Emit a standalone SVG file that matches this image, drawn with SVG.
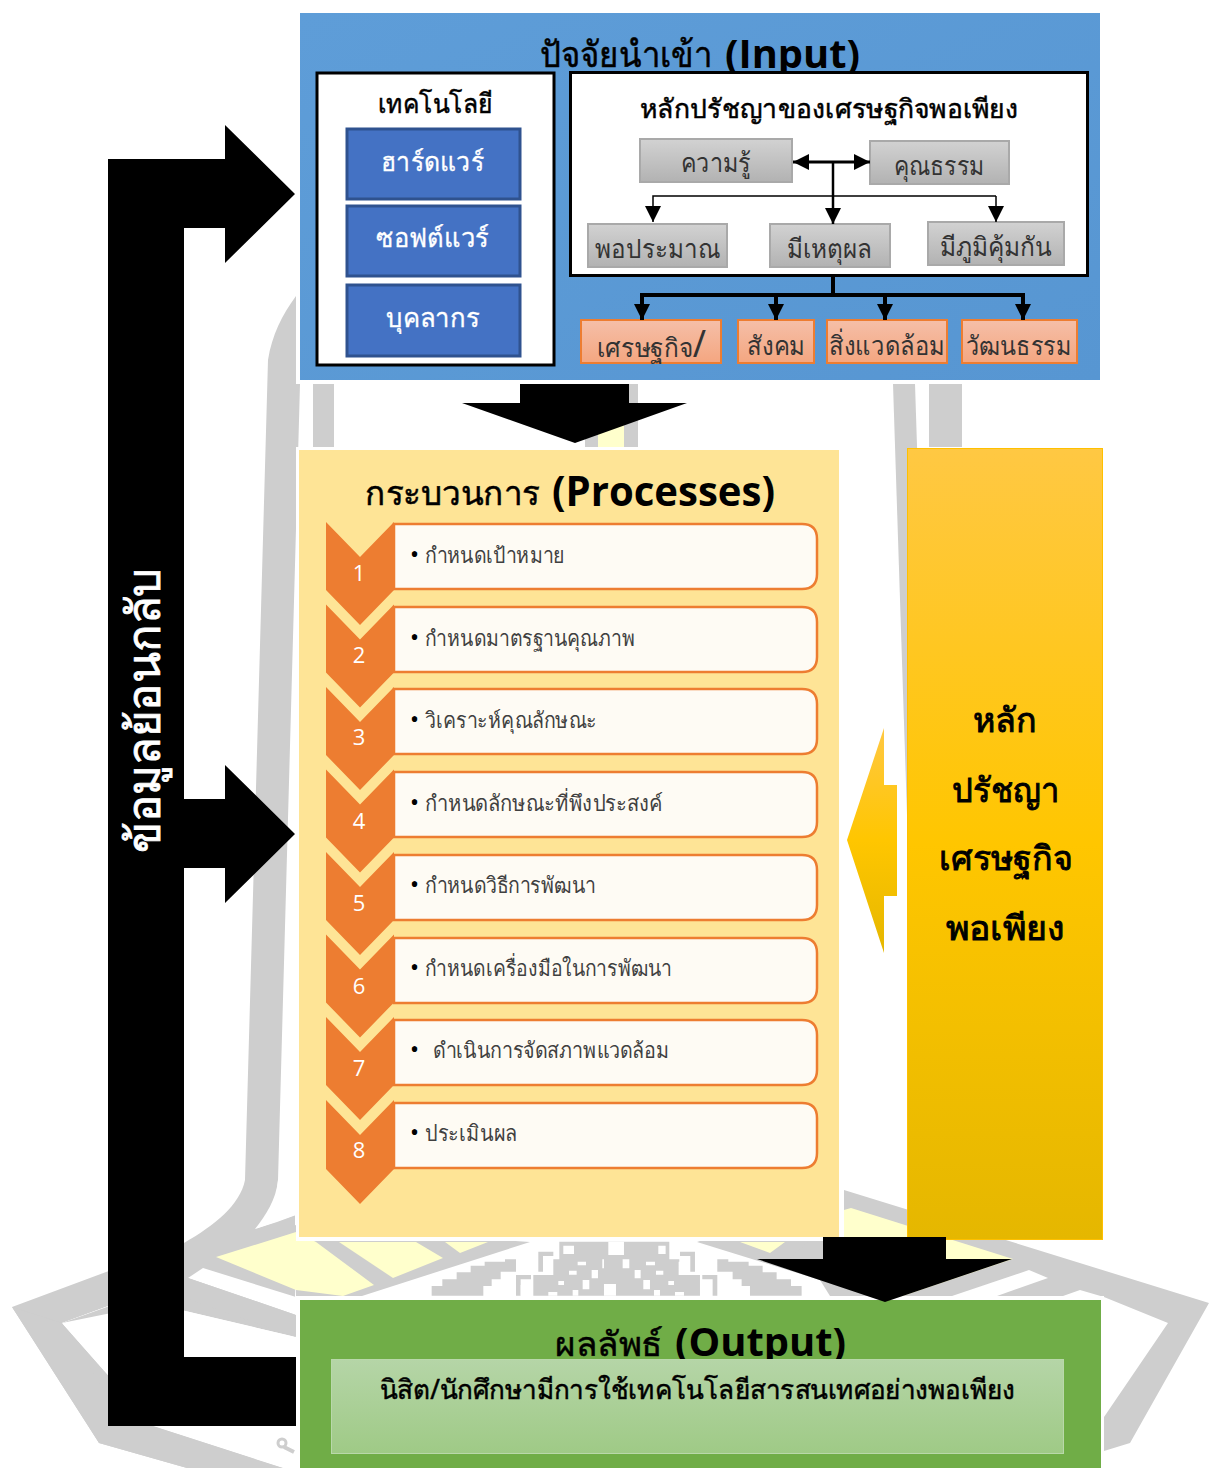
<svg xmlns="http://www.w3.org/2000/svg" width="1209" height="1468" viewBox="0 0 1209 1468">
<defs>
<style>
text{font-family:"Noto Sans","Open Sans","DejaVu Sans",sans-serif;text-anchor:start}
.en{font-family:"Open Sans","Noto Sans",sans-serif;font-weight:700;fill:#000}
.wm{fill:#cecece}.wy{fill:#ffffcc}
.gb{fill:url(#grey);stroke:#a9a9a9;stroke-width:2}
.ob{fill:url(#sal);stroke:#ed7d31;stroke-width:2}
.bb{fill:#4472c4;stroke:#2f528f;stroke-width:3}
.wb{fill:#fff;stroke:#000;stroke-width:3}
.t{font-size:26px;fill:#333}
.tw{font-size:26px;fill:#fff;stroke:#fff;stroke-width:.3}
.s{font-size:22px;fill:#404040}
.b{font-size:24px;fill:#000}
.n{font-family:"Open Sans",sans-serif;font-size:22px;fill:#fff;text-anchor:middle}
.chev{fill:#ed7d31}
.step{fill:#fefbf4;stroke:#ed7d31;stroke-width:2.5}
.c{fill:none;stroke:#000}
.g{font-size:34px;fill:#000;stroke:#000;stroke-width:.9}
.h{fill:#000;stroke:#000;stroke-width:.5}
</style>
<linearGradient id="blue" x1="0" y1="0" x2="1" y2="1"><stop offset="0" stop-color="#5e9dd8"/><stop offset="1" stop-color="#5796d2"/></linearGradient>
<linearGradient id="grey" x1="0" y1="0" x2="0" y2="1"><stop offset="0" stop-color="#d2d2d2"/><stop offset="1" stop-color="#b2b2b2"/></linearGradient>
<linearGradient id="sal" x1="0" y1="0" x2="0" y2="1"><stop offset="0" stop-color="#f5bfa8"/><stop offset="1" stop-color="#f4a680"/></linearGradient>
<linearGradient id="gold" x1="0" y1="0" x2="0" y2="1"><stop offset="0" stop-color="#ffc843"/><stop offset=".5" stop-color="#ffc600"/><stop offset="1" stop-color="#e5b700"/></linearGradient>
<linearGradient id="gr" x1="0" y1="0" x2="0" y2="1"><stop offset="0" stop-color="#b5d5a7"/><stop offset="1" stop-color="#9fca86"/></linearGradient>
<marker id="ah" markerUnits="userSpaceOnUse" markerWidth="18" markerHeight="18" refX="16" refY="8" orient="auto"><path d="M0,0L16,8L0,16Z" fill="#000"/></marker>
</defs>
<rect width="1209" height="1468" fill="#fff"/>
<g id="watermark">
<path class="wm" d="M268,360C272,335 282,315 296,296L296,384L300,384L278,1180C276,1205 266,1225 255,1229L295,1215L295,1297L295,1315L295,1337L130,1298L62,1323L153,1426L283,1468L187,1468L99,1443L12,1307L184,1243C215,1225 240,1205 245,1180Z"/>
<path fill="#fff" d="M188,1278L203,1268L296,1297L296,1315Z"/>
<path fill="#fff" d="M62,1323L130,1298L296,1337L296,1468L283,1468L153,1426Z"/>
<path class="wm" d="M99,1443L187,1468L283,1468L153,1426L110,1400L62,1323L12,1307Z"/>
<path class="wm" d="M62,1323L188,1278L296,1315L296,1337L185,1298Z"/>
<path fill="#fff" d="M278,1180L296,1180L296,1215L277,1222L255,1229C266,1215 276,1200 278,1180Z"/>
<circle cx="282" cy="1443" r="4" fill="none" stroke="#cecece" stroke-width="3"/>
<path d="M284,1447L294,1452" stroke="#cecece" stroke-width="4"/>
<path class="wm" d="M293,1225L530,1242L362,1296L296,1296Z"/>
<path class="wy" d="M216,1257L296,1232L316,1242L374,1285L343,1296L296,1290Z"/>
<path class="wy" d="M339,1242L393,1278L443,1258L416,1242Z"/>
<path class="wy" d="M445,1242L488,1242L460,1253Z"/>
<path class="wm" d="M313,384H334L334,447H313Z"/>
<path class="wm" d="M585,384H638V447H585Z"/>
<path class="wy" d="M598,384H624V447H598Z"/>
<path class="wm" d="M893,384H915L935,1000H913Z"/>
<path class="wm" d="M929,384H962V447H929Z"/>
<path class="wm" d="M844,1190L1209,1303L1130,1443L1104,1451V1417L1168,1323L1104,1297L1080,1290L1063,1296H697V1242Z"/>
<path fill="#fff" d="M1029,1270L1048,1278L997,1296H952Z"/>
<path class="wy" d="M844,1210L851,1208L1013,1259L885,1302L844,1260Z"/>
<path class="wm" d="M697,1242H740L770,1253L785,1242H808L790,1258H844V1296H820Z"/>
<path class="wy" d="M740,1242L770,1253L785,1242Z"/>
<path fill="#fff" d="M640,1242H697L820,1280L830,1296H640Z"/>
<g transform="translate(400,1230) scale(.3333)">
<path class="wm" d="M95,197V168H127V148H170V127H212V107H254V95H315V88H348V125H302V148H275V168H250V197Z"/>
<path class="wm" d="M1205,197V168H1173V148H1130V127H1088V107H1046V95H985V88H952V125H998V148H1025V168H1050V197Z"/>
<path class="wm" d="M478,35H808V88H838V135H900V197H400V135H460V88H478Z"/>
<path class="wm" d="M415,65H460V78H429V125H415ZM885,65H840V78H871V125H885ZM348,135H393V148H362V197H348ZM952,135H907V148H938V197H952Z"/>
<path fill="#fff" d="M490,47H522V72H490ZM775,47H797V72H775ZM625,35H672V75H625ZM533,95H558V106H533ZM738,95H765V106H738ZM668,88H688V115H668ZM607,88H612V115H607ZM507,122H530V134H507ZM575,120H594V145H575ZM704,120H722V145H704ZM768,122H790V134H768ZM475,153H492V165H475ZM548,150H568V178H548ZM730,150H750V178H730ZM805,153H822V165H805ZM612,162H648V197H612ZM445,186H472V197H445ZM518,180H535V197H518ZM762,180H780V197H762ZM825,186H852V197H825ZM429,95H440V125H429ZM836,95H860V135H836ZM362,165H398V197H362Z"/>
</g>
</g>
<rect x="296" y="447" width="548" height="794" fill="#fff"/>
<rect x="296" y="1296" width="808" height="172" fill="#fff"/>
<rect x="296" y="10" width="808" height="374" fill="#fff"/>
<g id="input">
<rect x="300" y="13" width="800" height="367" fill="url(#blue)"/>
<text class="h" x="540" y="67" font-size="36" textLength="172" lengthAdjust="spacingAndGlyphs">ปัจจัยนำเข้า</text>
<text class="en" x="725" y="68" font-size="40" textLength="135" lengthAdjust="spacingAndGlyphs">(Input)</text>
</g>
<g id="tech">
<rect class="wb" x="317" y="73" width="237" height="292"/>
<text class="h" x="378" y="113" font-size="27" textLength="115" lengthAdjust="spacingAndGlyphs">เทคโนโลยี</text>
</g>
<g id="hardware"><rect class="bb" x="347" y="129" width="173" height="70"/><text class="tw" x="381" y="171" textLength="103" lengthAdjust="spacingAndGlyphs">ฮาร์ดแวร์</text></g>
<g id="software"><rect class="bb" x="347" y="206" width="173" height="70"/><text class="tw" x="376" y="247" textLength="113" lengthAdjust="spacingAndGlyphs">ซอฟต์แวร์</text></g>
<g id="personnel"><rect class="bb" x="347" y="285" width="173" height="71"/><text class="tw" x="386" y="327" textLength="94" lengthAdjust="spacingAndGlyphs">บุคลากร</text></g>
<g id="philosophy">
<rect class="wb" x="570.500" y="72.500" width="517" height="203"/>
<text class="h" x="640" y="118" font-size="26" textLength="378" lengthAdjust="spacingAndGlyphs">หลักปรัชญาของเศรษฐกิจพอเพียง</text>
</g>
<g id="knowledge"><rect class="gb" x="640" y="139" width="152" height="43"/><text class="t" x="681" y="172" textLength="70" lengthAdjust="spacingAndGlyphs">ความรู้</text></g>
<g id="virtue"><rect class="gb" x="870" y="141" width="139" height="43"/><text class="t" x="894" y="175" textLength="90" lengthAdjust="spacingAndGlyphs">คุณธรรม</text></g>
<g id="moderation"><rect class="gb" x="588" y="224" width="139" height="43"/><text class="t" x="595" y="258" textLength="125" lengthAdjust="spacingAndGlyphs">พอประมาณ</text></g>
<g id="reason"><rect class="gb" x="770" y="224" width="120" height="43"/><text class="t" x="787" y="258" textLength="85" lengthAdjust="spacingAndGlyphs">มีเหตุผล</text></g>
<g id="immunity"><rect class="gb" x="928" y="222" width="136" height="43"/><text class="t" x="940" y="256" textLength="112" lengthAdjust="spacingAndGlyphs">มีภูมิคุ้มกัน</text></g>
<g id="economy"><rect class="ob" x="581" y="320" width="140" height="43"/><text class="t" x="597" y="357" textLength="109" lengthAdjust="spacingAndGlyphs">เศรษฐกิจ<tspan font-size="38">/</tspan></text></g>
<g id="society"><rect class="ob" x="738" y="320" width="76" height="43"/><text class="t" x="747" y="355" textLength="58" lengthAdjust="spacingAndGlyphs">สังคม</text></g>
<g id="environment"><rect class="ob" x="827" y="320" width="120" height="43"/><text class="t" x="829" y="355" textLength="116" lengthAdjust="spacingAndGlyphs">สิ่งแวดล้อม</text></g>
<g id="culture"><rect class="ob" x="962" y="320" width="115" height="43"/><text class="t" x="966" y="355" textLength="105" lengthAdjust="spacingAndGlyphs">วัฒนธรรม</text></g>
<g id="connectors">
<path class="c" stroke-width="3" d="M833,162H793" marker-end="url(#ah)"/>
<path class="c" stroke-width="3" d="M833,162H870" marker-end="url(#ah)"/>
<path class="c" stroke-width="2.500" d="M833,162V224" marker-end="url(#ah)"/>
<path class="c" stroke-width="1.500" d="M996,196H653V222" marker-end="url(#ah)"/>
<path class="c" stroke-width="1.500" d="M996,196V222" marker-end="url(#ah)"/>
<path class="c" stroke-width="4" d="M833,276V295"/>
<path class="c" stroke-width="4" d="M642,320V295H1023V320"/>
<path class="c" stroke-width="4" d="M776,295V320"/>
<path class="c" stroke-width="4" d="M885,295V320"/>
<path d="M634,304H650L642,320ZM768,304H784L776,320ZM877,304H893L885,320ZM1015,304H1031L1023,320Z" fill="#000"/>
<path id="arrow-input-process" d="M520,384H629V403H687L575,443L462,403H520Z" fill="#000"/>
<path id="arrow-gold" d="M884,728V785H897V896H884V953L847,840Z" fill="url(#gold)"/>
</g>
<g id="processes">
<rect x="299" y="450" width="540" height="787" fill="#fee496"/>
<text class="h" x="365" y="505" font-size="34" textLength="175" lengthAdjust="spacingAndGlyphs">กระบวนการ</text>
<text class="en" x="552" y="506" font-size="42" textLength="223" lengthAdjust="spacingAndGlyphs">(Processes)</text>
</g>
<g id="step1"><path class="step" d="M394,524H802Q817,524 817,539V574Q817,589 802,589H394Z"/><path class="chev" d="M326,522L360,557L394,522V590L360,625L326,590Z"/><text class="n" x="359" y="581">1</text><text class="b" x="410" y="563">•</text><text class="s" x="425" y="563" textLength="140" lengthAdjust="spacingAndGlyphs">กำหนดเป้าหมาย</text></g>
<g id="step2"><path class="step" d="M394,607H802Q817,607 817,622V657Q817,672 802,672H394Z"/><path class="chev" d="M326,604.500L360,639.500L394,604.500V672.500L360,707.500L326,672.500Z"/><text class="n" x="359" y="663">2</text><text class="b" x="410" y="646">•</text><text class="s" x="425" y="646" textLength="210" lengthAdjust="spacingAndGlyphs">กำหนดมาตรฐานคุณภาพ</text></g>
<g id="step3"><path class="step" d="M394,689H802Q817,689 817,704V739Q817,754 802,754H394Z"/><path class="chev" d="M326,687L360,722L394,687V755L360,790L326,755Z"/><text class="n" x="359" y="745">3</text><text class="b" x="410" y="728">•</text><text class="s" x="425" y="728" textLength="172" lengthAdjust="spacingAndGlyphs">วิเคราะห์คุณลักษณะ</text></g>
<g id="step4"><path class="step" d="M394,772H802Q817,772 817,787V822Q817,837 802,837H394Z"/><path class="chev" d="M326,769.500L360,804.500L394,769.500V837.500L360,872.500L326,837.500Z"/><text class="n" x="359" y="829">4</text><text class="b" x="410" y="811">•</text><text class="s" x="425" y="811" textLength="238" lengthAdjust="spacingAndGlyphs">กำหนดลักษณะที่พึงประสงค์</text></g>
<g id="step5"><path class="step" d="M394,855H802Q817,855 817,870V905Q817,920 802,920H394Z"/><path class="chev" d="M326,852L360,887L394,852V920L360,955L326,920Z"/><text class="n" x="359" y="911">5</text><text class="b" x="410" y="893">•</text><text class="s" x="425" y="893" textLength="171" lengthAdjust="spacingAndGlyphs">กำหนดวิธีการพัฒนา</text></g>
<g id="step6"><path class="step" d="M394,938H802Q817,938 817,953V988Q817,1003 802,1003H394Z"/><path class="chev" d="M326,934.500L360,969.500L394,934.500V1002.500L360,1037.500L326,1002.500Z"/><text class="n" x="359" y="994">6</text><text class="b" x="410" y="976">•</text><text class="s" x="425" y="976" textLength="247" lengthAdjust="spacingAndGlyphs">กำหนดเครื่องมือในการพัฒนา</text></g>
<g id="step7"><path class="step" d="M394,1020H802Q817,1020 817,1035V1070Q817,1085 802,1085H394Z"/><path class="chev" d="M326,1017L360,1052L394,1017V1085L360,1120L326,1085Z"/><text class="n" x="359" y="1076">7</text><text class="b" x="410" y="1058">•</text><text class="s" x="433" y="1058" textLength="236" lengthAdjust="spacingAndGlyphs">ดำเนินการจัดสภาพแวดล้อม</text></g>
<g id="step8"><path class="step" d="M394,1103H802Q817,1103 817,1118V1153Q817,1168 802,1168H394Z"/><path class="chev" d="M326,1100L360,1135L394,1100V1169L360,1204L326,1169Z"/><text class="n" x="359" y="1158">8</text><text class="b" x="410" y="1141">•</text><text class="s" x="425" y="1141" textLength="92" lengthAdjust="spacingAndGlyphs">ประเมินผล</text></g>
<g id="principle">
<rect x="907.500" y="448.500" width="195" height="791" fill="url(#gold)" stroke="#ffc000"/>
<text class="g" x="973" y="732" textLength="64" lengthAdjust="spacingAndGlyphs">หลัก</text>
<text class="g" x="952" y="802" textLength="107" lengthAdjust="spacingAndGlyphs">ปรัชญา</text>
<text class="g" x="939" y="870" textLength="134" lengthAdjust="spacingAndGlyphs">เศรษฐกิจ</text>
<text class="g" x="946" y="940" textLength="119" lengthAdjust="spacingAndGlyphs">พอเพียง</text>
</g>
<g id="output">
<rect x="300" y="1300" width="801" height="168" fill="#70ad47"/>
<text class="h" x="555" y="1356" font-size="34" textLength="108" lengthAdjust="spacingAndGlyphs">ผลลัพธ์</text>
<text class="en" x="675" y="1356" font-size="40" textLength="171" lengthAdjust="spacingAndGlyphs">(Output)</text>
<rect x="331.500" y="1359.500" width="732" height="94" fill="url(#gr)" stroke="#b9d8aa"/>
<text class="h" x="380" y="1399" font-size="27" textLength="635" lengthAdjust="spacingAndGlyphs">นิสิต/นักศึกษามีการใช้เทคโนโลยีสารสนเทศอย่างพอเพียง</text>
</g>
<g id="connector-output"><path id="arrow-process-output" d="M823,1237H946V1259H1012L885,1302L757,1259H823Z" fill="#000"/></g>
<g id="feedback">
<path d="M108,159H225V125L295,194L225,263V228H184V799H225V765L295,834L225,903V868H184V1357H296V1426H108Z" fill="#000"/>
<text transform="translate(160,853) rotate(-90)" font-size="46" fill="#fff" stroke="#fff" stroke-width=".8" textLength="285" lengthAdjust="spacingAndGlyphs">ข้อมูลย้อนกลับ</text>
</g>
</svg>
